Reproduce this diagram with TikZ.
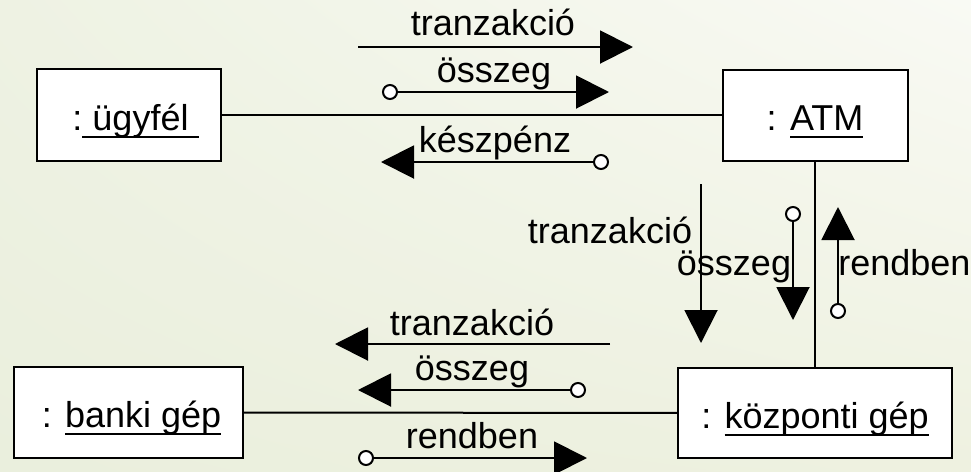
\documentclass[tikz,border=0pt]{standalone}
\usepackage{fontspec}
\setmainfont{Liberation Sans}
\usetikzlibrary{arrows.meta,shadings}
\definecolor{bgul}{RGB}{238,242,227}
\definecolor{bgur}{RGB}{249,250,244}
\definecolor{bgll}{RGB}{234,239,221}
\definecolor{bglr}{RGB}{238,241,224}
\newsavebox{\objbox}
\newcommand{\objname}[1]{\sbox{\objbox}{#1}\rlap{\rule[-0.22em]{\wd\objbox}{0.055em}}\usebox{\objbox}}

\begin{document}
\begin{tikzpicture}[x=0.5pt,y=-0.5pt,
    every node/.style={font=\fontsize{18}{21}\selectfont},
    obj/.style={draw, line width=1pt, fill=white, inner sep=0pt, text height=18.5pt, text depth=3.5pt},
    assoc/.style={line width=1pt},
    msg/.style={line width=1pt, -{Triangle[length=16.5pt,width=16.5pt]}},
    retmsg/.style={line width=1pt, {Circle[length=8pt,fill=white]}-{Triangle[length=16.5pt,width=16.5pt]}},
    lbl/.style={anchor=base, inner sep=0pt}]
      \shade[upper left=bgul, upper right=bgur, lower left=bgll, lower right=bglr]
      (0,0) rectangle (971,472);
      \useasboundingbox (0,0) rectangle (971,472);
      % objects
      \node[obj, minimum width=92pt, minimum height=46pt] (ugyfel) at (129,115) {\hspace*{6.5pt}:\objname{\ ügyfél\ }};
      \node[obj, minimum width=92.5pt, minimum height=45.5pt] (atm) at (815,115) {: \objname{ATM}};
      \node[obj, minimum width=114.5pt, minimum height=45.5pt] (banki) at (128.5,412.5) {\hspace*{3pt}: \objname{banki gép}};
      \node[obj, minimum width=137pt, minimum height=45pt] (kozponti) at (815,413) {: \objname{központi gép}};
      \draw[assoc] (ugyfel) -- (atm);
      \draw[assoc] (banki) -- (kozponti);
      \draw[assoc] (atm) -- (kozponti);
      % ugyfel -- atm
      \coordinate (m1s) at (358,47);   \coordinate (m1e) at (633,47);
      \coordinate (m2s) at (382,92);   \coordinate (m2e) at (609,92);
      \coordinate (m3s) at (609,162);  \coordinate (m3e) at (381,162);
      \draw[msg] (m1s) -- (m1e);
      \draw[retmsg] (m2s) -- (m2e);
      \draw[retmsg] (m3s) -- (m3e);
      \node[lbl] (m1l) at (493,35) {tranzakció};
      \node[lbl] (m2l) at (494,82) {összeg};
      \node[lbl] (m3l) at (495,152) {készpénz};
      % atm -- kozponti
      \coordinate (m4s) at (701,184);  \coordinate (m4e) at (701,343);
      \coordinate (m5s) at (793,206);  \coordinate (m5e) at (793,320);
      \coordinate (m6s) at (838,319);  \coordinate (m6e) at (838,207);
      \draw[msg] (m4s) -- (m4e);
      \draw[retmsg] (m5s) -- (m5e);
      \draw[retmsg] (m6s) -- (m6e);
      \node[lbl] (m4l) at (610,243) {tranzakció};
      \node[lbl] (m5l) at (734,275) {összeg};
      \node[lbl, anchor=base west] (m6l) at (838,275) {rendben};
      % kozponti -- banki
      \coordinate (m7s) at (610,344);  \coordinate (m7e) at (335,344);
      \coordinate (m8s) at (586,390);  \coordinate (m8e) at (358,390);
      \coordinate (m9s) at (358,458);  \coordinate (m9e) at (587,458);
      \draw[msg] (m7s) -- (m7e);
      \draw[retmsg] (m8s) -- (m8e);
      \draw[retmsg] (m9s) -- (m9e);
      \node[lbl] (m7l) at (472,335) {tranzakció};
      \node[lbl] (m8l) at (472,380) {összeg};
      \node[lbl] (m9l) at (472,448) {rendben};
    \end{tikzpicture}
\end{document}
